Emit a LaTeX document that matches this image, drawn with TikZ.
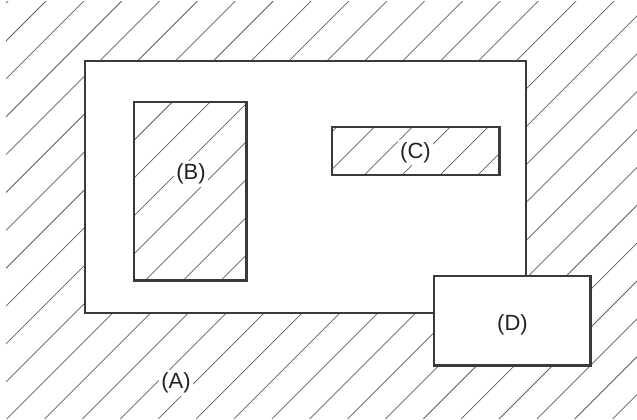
\documentclass[tikz,border=0pt]{standalone}
\usepackage{fontspec}
\setmainfont{Liberation Sans}
\definecolor{edge}{HTML}{3A3A38}
\definecolor{hatch}{HTML}{606060}
\definecolor{ink}{HTML}{222222}
\tikzset{
  box/.style={draw=edge, line width=2.7pt},
  hatchline/.style={draw=hatch, line width=0.75pt},
  lbl/.style={fill=white, text=ink, inner sep=2.5pt, font=\fontsize{22}{24}\selectfont}
}
\begin{document}
\begin{tikzpicture}[x=1pt,y=-1pt]
\useasboundingbox (0,0) rectangle (637,420);
% hatching over region A
\begin{scope}
  \clip (6,2) rectangle (637,418);
  \foreach \k in {-1,...,27}{
    \pgfmathsetmacro{\c}{47+37.87*\k}
    \draw[hatchline] (\c,0) -- ++(-600,600);
  }
\end{scope}
% white interior of the outer rectangle, except B and C
\fill[white, even odd rule] (85,61) rectangle (526,313)
   (134,102) rectangle (246.5,280.5)
   (332,127) rectangle (499.5,175);
% borders
\draw[box] (85,61) rectangle (526,313);
\draw[box] (134,102) rectangle (246.5,280.5);
\draw[box] (332,127) rectangle (499.5,175);
\draw[box, fill=white] (434,276) rectangle (590.5,365.5);
% labels
\node[lbl] (A) at (176,383) {(A)};
\node[lbl] (B) at (191,174) {(B)};
\node[lbl] (C) at (415.5,152.5) {(C)};
\node[lbl] (D) at (512.5,325) {(D)};
\end{tikzpicture}
\end{document}
